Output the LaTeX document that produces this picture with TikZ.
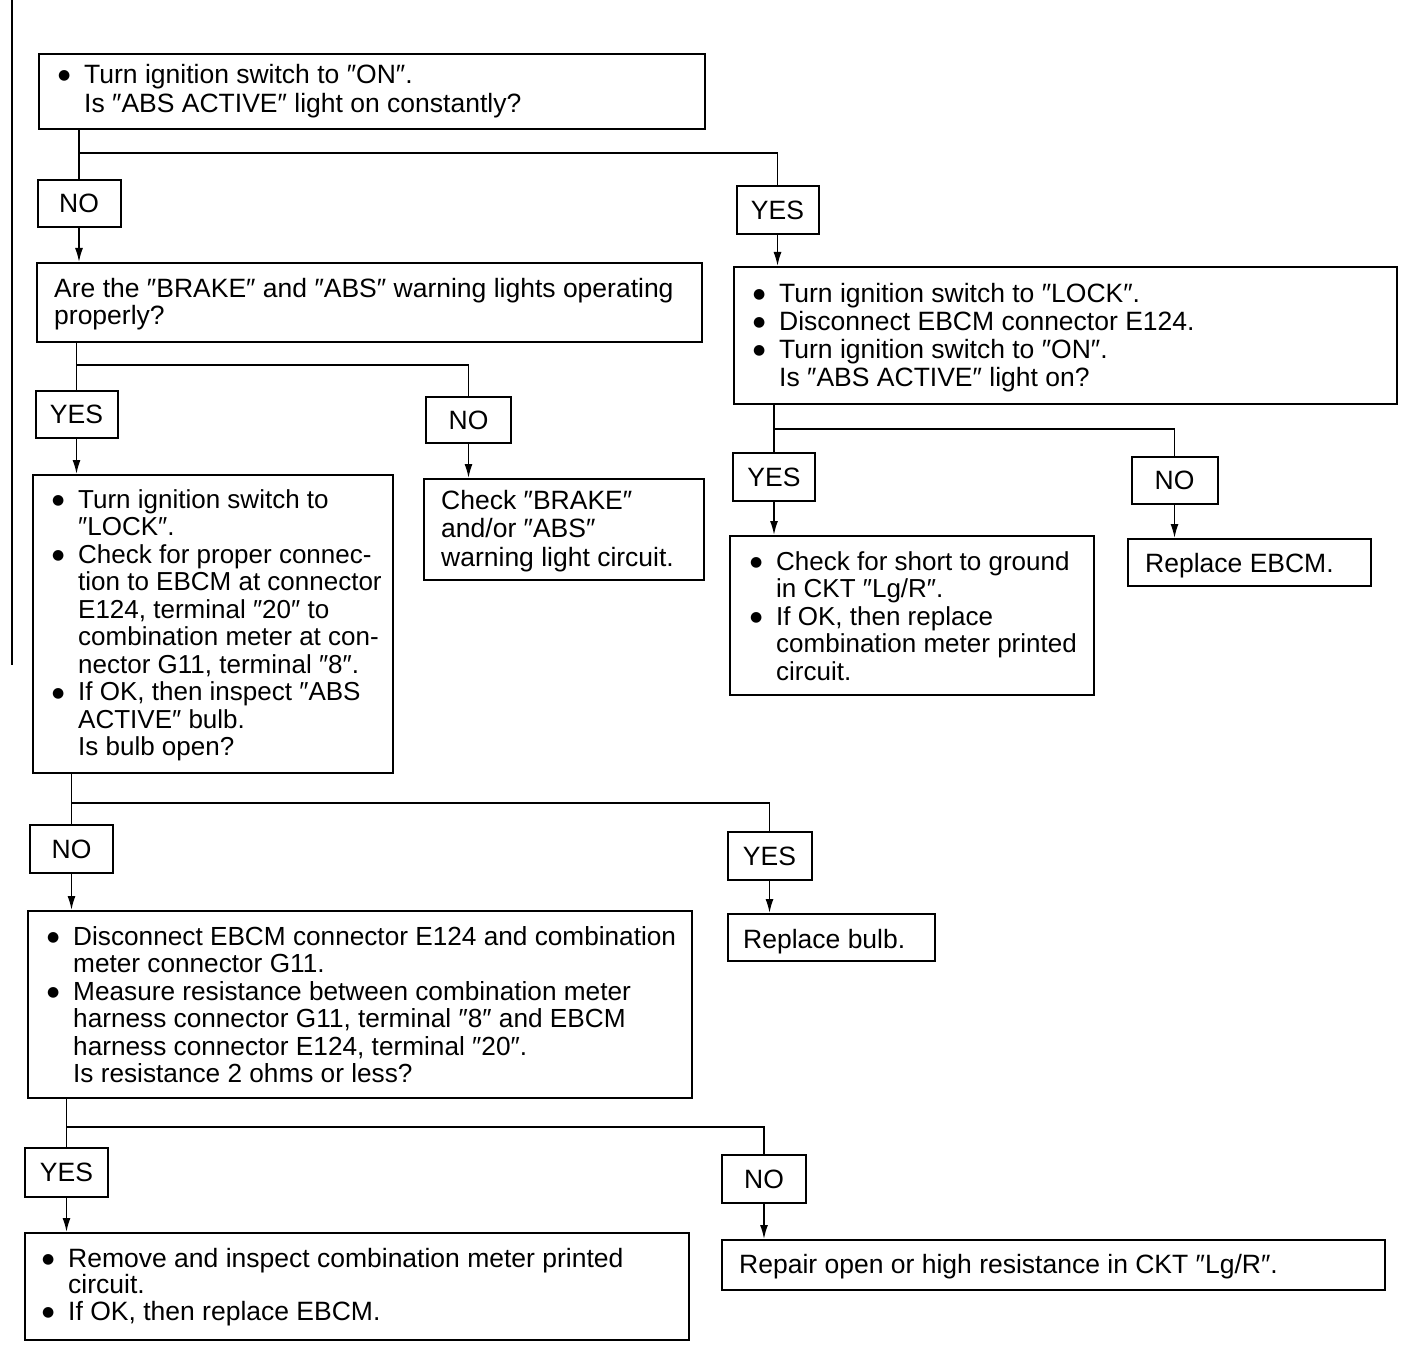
\documentclass[tikz,border=0pt]{standalone}
\usepackage{fontspec}
\setmainfont{Liberation Sans}
\newfontfamily\symf{DejaVu Sans}
\usetikzlibrary{arrows.meta}
\newcommand{\bul}{\makebox[26pt][l]{\raisebox{3.5pt}{\symf\fontsize{14}{14}\selectfont ●}}}
\newcommand{\ind}{\hspace*{26pt}}
\begin{document}
\begin{tikzpicture}[x=1pt,y=-1pt,
  box/.style={draw, line width=2pt, rectangle, inner sep=0pt, anchor=north west},
  lbl/.style={draw, line width=2pt, rectangle, inner sep=0pt, font=\fontsize{26.5}{27.5}\selectfont},
  txt/.style={inner sep=0pt, anchor=north west, align=left, font=\fontsize{26.5}{27.5}\selectfont},
  link/.style={line width=1.6pt},
  arr/.style={link, -{Latex[length=14pt,width=8pt]}}]
\useasboundingbox (0,0) rectangle (1408,1364);
\draw[line width=1.6pt] (12,0) -- (12,665);
% boxes
\node[box, minimum width=666pt, minimum height=75pt] (b1) at (38,53) {};
\node[box, minimum width=665pt, minimum height=79pt] (b2) at (36,262) {};
\node[box, minimum width=663pt, minimum height=137pt] (b3) at (733,266) {};
\node[box, minimum width=360pt, minimum height=298pt] (b4) at (32,474) {};
\node[box, minimum width=280pt, minimum height=101pt] (b5) at (423,478) {};
\node[box, minimum width=364pt, minimum height=159pt] (b6) at (729,535) {};
\node[box, minimum width=243pt, minimum height=47pt] (b7) at (1127,538) {};
\node[box, minimum width=207pt, minimum height=47pt] (b8) at (727,913) {};
\node[box, minimum width=664pt, minimum height=187pt] (b9) at (27,910) {};
\node[box, minimum width=664pt, minimum height=107pt] (b10) at (24,1232) {};
\node[box, minimum width=663pt, minimum height=50pt] (b11) at (721,1239) {};
% texts
\node[txt, font=\fontsize{26.5}{29}\selectfont] (t1) at (58,64) {\bul Turn ignition switch to ″ON″.\\ \ind Is ″ABS ACTIVE″ light on constantly?};
\node[txt] (t2) at (54,278) {Are the ″BRAKE″ and ″ABS″ warning lights operating\\ properly?};
\node[txt, font=\fontsize{26.5}{28}\selectfont] (t3) at (753,283) {\bul Turn ignition switch to ″LOCK″.\\ \bul Disconnect EBCM connector E124.\\ \bul Turn ignition switch to ″ON″.\\ \ind Is ″ABS ACTIVE″ light on?};
\node[txt, font=\fontsize{26}{27.5}\selectfont] (t4) at (52,489) {\bul Turn ignition switch to\\ \ind ″LOCK″.\\ \bul Check for proper connec-\\ \ind tion to EBCM at connector\\ \ind E124, terminal ″20″ to\\ \ind combination meter at con-\\ \ind nector G11, terminal ″8″.\\ \bul If OK, then inspect ″ABS\\ \ind ACTIVE″ bulb.\\ \ind Is bulb open?};
\node[txt, font=\fontsize{26.5}{28.5}\selectfont] (t5) at (441,490) {Check ″BRAKE″\\ and/or ″ABS″\\ warning light circuit.};
\node[txt, font=\fontsize{26}{27.5}\selectfont] (t6) at (750,551) {\bul Check for short to ground\\ \ind in CKT ″Lg/R″.\\ \bul If OK, then replace\\ \ind combination meter printed\\ \ind circuit.};
\node[txt] (t7) at (1145,553) {Replace EBCM.};
\node[txt] (t8) at (743,929) {Replace bulb.};
\node[txt, font=\fontsize{26.2}{27.5}\selectfont] (t9) at (47,926) {\bul Disconnect EBCM connector E124 and combination\\ \ind meter connector G11.\\ \bul Measure resistance between combination meter\\ \ind harness connector G11, terminal ″8″ and EBCM\\ \ind harness connector E124, terminal ″20″.\\ \ind Is resistance 2 ohms or less?};
\node[txt, font=\fontsize{26.5}{26.5}\selectfont] (t10) at (42,1248) {\bul Remove and inspect combination meter printed\\ \ind circuit.\\ \bul If OK, then replace EBCM.};
\node[txt] (t11) at (739,1254) {Repair open or high resistance in CKT ″Lg/R″.};
% labels
\node[lbl, minimum width=83pt, minimum height=47pt] (no1) at (79,203.5) {NO};
\node[lbl, minimum width=82pt, minimum height=48pt] (yes1) at (777.5,210) {YES};
\node[lbl, minimum width=82pt, minimum height=47pt] (yes2) at (76.5,414.5) {YES};
\node[lbl, minimum width=85pt, minimum height=46pt] (no2) at (468.5,420) {NO};
\node[lbl, minimum width=82pt, minimum height=48pt] (yes3) at (774,477) {YES};
\node[lbl, minimum width=86pt, minimum height=47pt] (no3) at (1174.5,480.5) {NO};
\node[lbl, minimum width=83pt, minimum height=48pt] (no4) at (71.5,849) {NO};
\node[lbl, minimum width=84pt, minimum height=48pt] (yes4) at (769.5,856) {YES};
\node[lbl, minimum width=83pt, minimum height=49pt] (yes5) at (66.5,1172.5) {YES};
\node[lbl, minimum width=84pt, minimum height=48pt] (no5) at (764,1179) {NO};
% junctions
\coordinate (j1) at (79,153);
\coordinate (j2) at (76.5,365);
\coordinate (j3) at (774,429);
\coordinate (j4) at (71.5,803);
\coordinate (j5) at (66.5,1127);
% connectors
\draw[link] (b1.south -| no1) -- (no1.north);
\draw[link] (j1) -| (yes1.north);
\draw[arr] (no1.south) -- (no1.south |- b2.north);
\draw[arr] (yes1.south) -- (yes1.south |- b3.north);
\draw[link] (b2.south -| yes2) -- (yes2.north);
\draw[link] (j2) -| (no2.north);
\draw[arr] (yes2.south) -- (yes2.south |- b4.north);
\draw[arr] (no2.south) -- (no2.south |- b5.north);
\draw[link] (b3.south -| yes3) -- (yes3.north);
\draw[link] (j3) -| (no3.north);
\draw[arr] (yes3.south) -- (yes3.south |- b6.north);
\draw[arr] (no3.south) -- (no3.south |- b7.north);
\draw[link] (b4.south -| no4) -- (no4.north);
\draw[link] (j4) -| (yes4.north);
\draw[arr] (no4.south) -- (no4.south |- b9.north);
\draw[arr] (yes4.south) -- (yes4.south |- b8.north);
\draw[link] (b9.south -| yes5) -- (yes5.north);
\draw[link] (j5) -| (no5.north);
\draw[arr] (yes5.south) -- (yes5.south |- b10.north);
\draw[arr] (no5.south) -- (no5.south |- b11.north);
\end{tikzpicture}
\end{document}
